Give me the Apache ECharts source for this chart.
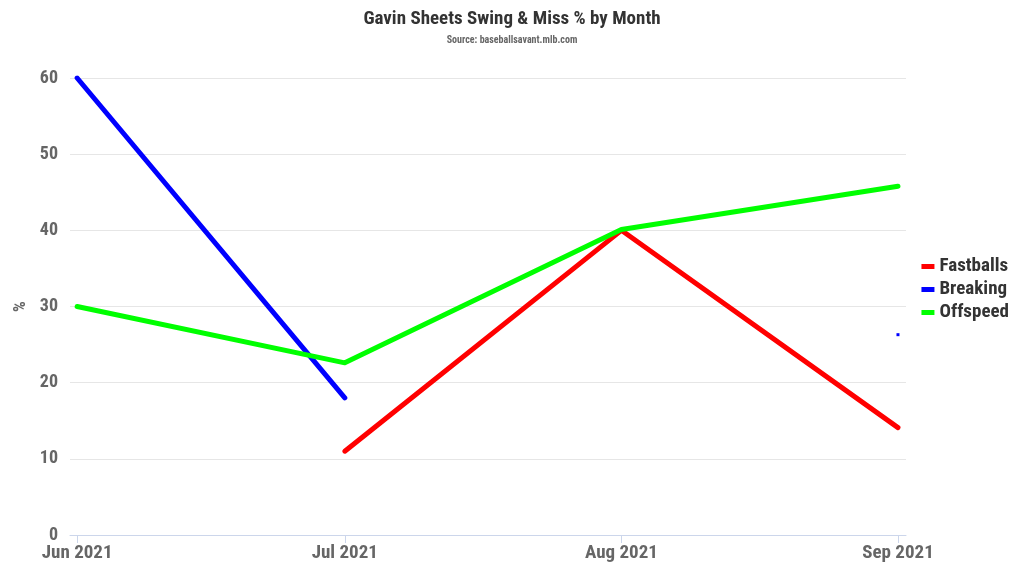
<!DOCTYPE html>
<html><head><meta charset="utf-8">
<script src="https://cdn.jsdelivr.net/npm/echarts@6/dist/echarts.min.js"></script>
<style>html,body{margin:0;padding:0;background:#fff}#c{width:1024px;height:576px}</style>
</head><body><div id="c"></div>
<script>
const months = ['2021-06-01', '2021-07-01', '2021-08-01', '2021-09-01'];
const monthLabels = ['Jun 2021', 'Jul 2021', 'Aug 2021', 'Sep 2021'];
const fastballs = [null, 11.0, 40.0, 14.1];
const breaking = [60.0, 18.0, null, 26.3];
const offspeed = [30.0, 22.6, 40.1, 45.8];
const yTicks = [0, 10, 20, 30, 40, 50, 60];

const FONT = '"Roboto Condensed", "Liberation Sans Narrow", Roboto, sans-serif';
const DAY = 86400000;
const ts = months.map(m => new Date(m + 'T00:00:00Z').getTime());
const pair = arr => arr.map((v, i) => [ts[i], v]);
const chart = echarts.init(document.getElementById('c'));
const mk = (name, arr, color) => ({
  name, type: 'line', data: pair(arr), connectNulls: false,
  lineStyle: { width: 5, color, cap: 'round', join: 'round' }, itemStyle: { color },
  showSymbol: true, symbol: 'rect',
  symbolSize: (v, p) => {
    const i = p.dataIndex;
    const prev = i > 0 ? arr[i - 1] : null, next = i < arr.length - 1 ? arr[i + 1] : null;
    return (prev == null && next == null) ? 3 : 0;
  },
  emphasis: { disabled: true }
});
chart.setOption({
  animation: false,
  title: {
    text: 'Gavin Sheets Swing & Miss % by Month',
    subtext: 'Source: baseballsavant.mlb.com',
    left: 'center', top: 5, itemGap: 6,
    textStyle: { fontFamily: FONT, fontWeight: 'bold', fontSize: 19, color: '#333' },
    subtextStyle: { fontFamily: FONT, fontWeight: 'bold', fontSize: 10, color: '#666' }
  },
  legend: {
    orient: 'vertical', right: 10, top: 252,
    itemWidth: 13, itemHeight: 5, itemGap: 4, icon: 'rect',
    textStyle: { fontFamily: FONT, fontWeight: 'bold', fontSize: 19, color: '#333' },
    data: ['Fastballs', 'Breaking', 'Offspeed']
  },
  grid: { left: 70, right: 118, top: 78, bottom: 41, containLabel: false },
  xAxis: {
    type: 'value',
    min: ts[0] - 0.8 * DAY, max: ts[3] + 0.9 * DAY,
    axisLine: { lineStyle: { color: '#ccd6eb' } },
    axisTick: { show: true, customValues: ts, length: 8, lineStyle: { color: '#ccd6eb' } },
    splitLine: { show: false },
    axisLabel: {
      fontFamily: FONT, fontWeight: 'bold', fontSize: 19, color: '#666', margin: 9,
      customValues: ts,
      formatter: v => { const i = ts.indexOf(v); return i >= 0 ? monthLabels[i] : ''; }
    }
  },
  yAxis: {
    type: 'value', min: 0, max: 60, interval: 10,
    name: '%', nameLocation: 'middle', nameGap: 30, nameRotate: 90,
    nameTextStyle: { fontFamily: FONT, fontWeight: 'bold', fontSize: 17, color: '#666' },
    axisLine: { show: false }, axisTick: { show: false },
    splitLine: { lineStyle: { color: '#e6e6e6', width: 1 } },
    axisLabel: {
      fontFamily: FONT, fontWeight: 'bold', fontSize: 18, color: '#666', margin: 12,
      formatter: v => yTicks.includes(v) ? String(v) : ''
    }
  },
  series: [
    mk('Fastballs', fastballs, '#ff0000'),
    mk('Breaking', breaking, '#0000ff'),
    mk('Offspeed', offspeed, '#00ff00')
  ]
});
</script></body></html>
